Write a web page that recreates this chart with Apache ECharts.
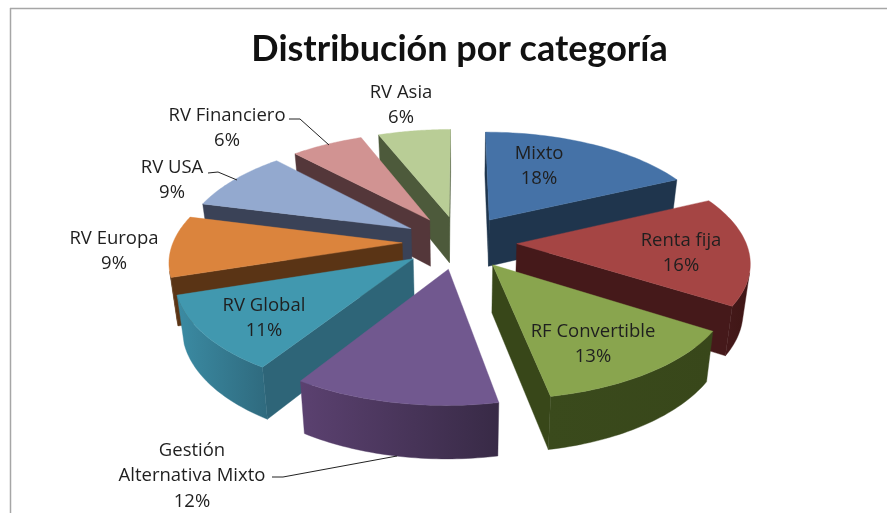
<!DOCTYPE html>
<html><head><meta charset="utf-8">
<style>html,body{margin:0;padding:0;background:#fff}#c{width:887px;height:513px}</style>
<script src="https://cdn.jsdelivr.net/npm/echarts@6/dist/echarts.min.js"></script>
</head><body><div id="c"></div>
<script>
// ---- data ----
const categories = ['Mixto','Renta fija','RF Convertible','Gestión Alternativa Mixto','RV Global','RV Europa','RV USA','RV Financiero','RV Asia'];
const shares     = [18,16,13,12,11,9,9,6,6];
const topColors  = ['#4572a7','#a54544','#89a54e','#71588f','#4198af','#db843d','#93a9cf','#d19392','#b9cd96'];
const wallColors = ['#1f354d','#45191a','#384719','#3f2e50','#2e6578','#5a3415','#3a4257','#54373a','#4d5a3b'];
const rimLeft    = ['#1f354d','#45191a','#3a4a1c','#5b4170','#3b8ba3','#5a3415','#3a4257','#54373a','#4d5a3b'];
const rimRight   = ['#1f354d','#3f1615','#38471a','#382a46','#2f6a7e','#5a3415','#3a4257','#54373a','#4d5a3b'];

// ---- 3D projection of the exploded pie ----
const CX=459.5, CY=242, RX=229, RY=107, PERSP=0.148, EXPLODE=0.25, DEPTH=47, BOTTOM_SCALE=0.975;
function project(x,y,bottom){
  const p=1/(1-PERSP*y); let X=x*RX*p, Y=y*RY*p;
  if(bottom){X*=BOTTOM_SCALE; Y=Y*BOTTOM_SCALE+DEPTH*p;}
  return [CX+X,CY+Y];
}
const total=shares.reduce((a,b)=>a+b,0);
function area(pts){let s=0;for(let i=0;i<pts.length;i++){const a=pts[i],b=pts[(i+1)%pts.length];s+=a[0]*b[1]-b[0]*a[1];}return s;}
function poly(points,fill,z2){return {type:'polygon',z2,shape:{points},style:{fill,stroke:fill,lineWidth:0.4},silent:true};}

function renderSlice(params,api){
  const i=params.dataIndex, val=api.value(0);
  let before=0; for(let k=0;k<i;k++) before+=shares[k];
  const a0=before/total*2*Math.PI, a1=(before+val)/total*2*Math.PI, am=(a0+a1)/2;
  const ox=EXPLODE*Math.sin(am), oy=-EXPLODE*Math.cos(am);
  const n=40, rim=[];
  for(let k=0;k<=n;k++){const t=a0+(a1-a0)*k/n; rim.push([ox+Math.sin(t),oy-Math.cos(t)]);}
  const base=Math.round((oy+1)*1000);
  const topPts=[project(ox,oy)].concat(rim.map(r=>project(r[0],r[1])));
  const children=[];
  // radial walls (back faces culled)
  const wall=(r,sign)=>{
    const q=[project(ox,oy),project(r[0],r[1]),project(r[0],r[1],true),project(ox,oy,true)];
    if(area(q)*sign>0) children.push(poly(q,wallColors[i],base));
  };
  wall(rim[0],-1); wall(rim[n],1);
  // visible rim
  let run=[];
  const flush=()=>{
    if(run.length<2){run=[];return;}
    const up=run.map(r=>project(r[0],r[1])), dn=run.map(r=>project(r[0],r[1],true)).reverse();
    const pts=up.concat(dn), xs=pts.map(p=>p[0]);
    const fill=new echarts.graphic.LinearGradient(Math.min(...xs),0,Math.max(...xs),0,
      [{offset:0,color:rimLeft[i]},{offset:1,color:rimRight[i]}],true);
    children.push(poly(pts,fill,base+1));
    run=[];
  };
  for(let k=0;k<n;k++){
    const q=[project(rim[k][0],rim[k][1]),project(rim[k+1][0],rim[k+1][1]),project(rim[k+1][0],rim[k+1][1],true),project(rim[k][0],rim[k][1],true)];
    if(area(q)<0){ if(!run.length) run.push(rim[k]); run.push(rim[k+1]); } else flush();
  }
  flush();
  children.push(poly(topPts,topColors[i],base+2));
  return {type:'group',children};
}

// ---- label layout: [centre x, block centre y] per category ----
const labelSpots=[[539,165],[681,252],[593,343],[192,475],[264,317],[114,250],[172,179],[227,127],[401,104]];
const LABEL_FONT='"Open Sans", Lato, sans-serif';
const labelEls=categories.map((c,i)=>({
  type:'text',z:50,x:labelSpots[i][0],y:labelSpots[i][1]+1,silent:true,
  style:{text:c.replace(' Alternativa','\nAlternativa')+'\n'+shares[i]+'%',fontFamily:LABEL_FONT,fontSize:18.5,lineHeight:25.5,
    fill:'#1f1f1f',textAlign:'center',textVerticalAlign:'middle'}
}));
const lines=[
 [[289,119],[300,119],[329,145]],
 [[208,173],[218,172],[237,180]],
 [[272,477],[283,477],[397,456]]
].map(points=>({type:'polyline',z:49,silent:true,shape:{points},style:{stroke:'#222',lineWidth:1,fill:null}}));
const frame=[
 {type:'line',z:1,silent:true,shape:{x1:10,y1:8.5,x2:887,y2:8.5},style:{stroke:'#a6a6a6',lineWidth:1.5}},
 {type:'line',z:1,silent:true,shape:{x1:10.5,y1:8,x2:10.5,y2:513},style:{stroke:'#a6a6a6',lineWidth:1.5}}
];

const chart=echarts.init(document.getElementById('c'),null,{renderer:'canvas'});
chart.setOption({
  backgroundColor:'#ffffff',
  animation:false,
  title:{text:'Distribución por categoría',left:454.5,top:26,textAlign:'center',
    textStyle:{fontFamily:'Lato, "Open Sans", sans-serif',fontSize:36,fontWeight:'bold',color:'#111'}},
  graphic:frame.concat(lines,labelEls),
  series:[{type:'custom',coordinateSystem:'none',silent:true,renderItem:renderSlice,
    data:shares.map((s,i)=>({name:categories[i],value:[s]}))}]
});
</script></body></html>
